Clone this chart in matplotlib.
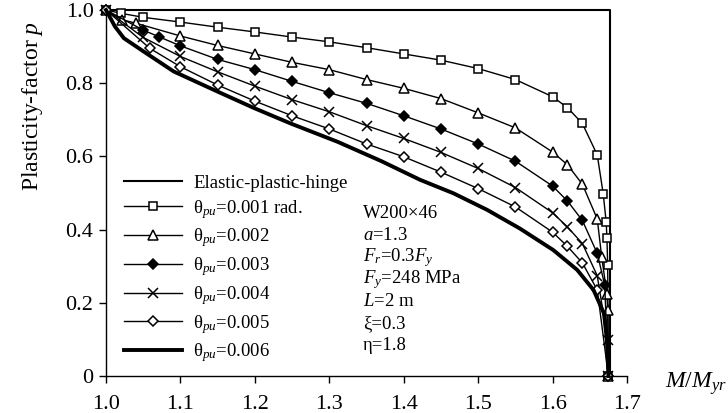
import matplotlib
matplotlib.use("Agg")
import matplotlib.pyplot as plt

plt.rcParams['font.family'] = ['Liberation Serif', 'DejaVu Serif']
plt.rcParams['mathtext.fontset'] = 'custom'
plt.rcParams['mathtext.rm'] = 'Liberation Serif'
plt.rcParams['mathtext.it'] = 'Liberation Serif:italic'

# ------------------------------------------------------------
# data (M/Myr, plasticity factor p)
ep_x = [1.0, 1.677, 1.677]
ep_p = [1.0, 1.0, 0.0]

x1 = [1.0, 1.02, 1.05, 1.10, 1.15, 1.20, 1.25, 1.30, 1.35, 1.40, 1.45, 1.50,
      1.55, 1.60, 1.62, 1.64, 1.66, 1.668, 1.672, 1.673, 1.674, 1.675]
p1 = [1.0, 0.991, 0.98, 0.967, 0.953, 0.94, 0.926, 0.913, 0.897, 0.88, 0.863,
      0.84, 0.81, 0.763, 0.733, 0.69, 0.604, 0.498, 0.421, 0.377, 0.303, 0.0]

x2 = [1.0, 1.022, 1.04, 1.10, 1.15, 1.20, 1.25, 1.30, 1.35, 1.40, 1.45, 1.50,
      1.55, 1.60, 1.62, 1.64, 1.66, 1.666, 1.673, 1.674, 1.675]
p2 = [1.0, 0.973, 0.964, 0.929, 0.903, 0.880, 0.857, 0.837, 0.810, 0.786,
      0.758, 0.719, 0.678, 0.612, 0.577, 0.524, 0.429, 0.325, 0.223, 0.181, 0.0]

x3 = [1.0, 1.05, 1.071, 1.10, 1.15, 1.20, 1.25, 1.30, 1.35, 1.40, 1.45, 1.50,
      1.55, 1.60, 1.62, 1.64, 1.66, 1.670, 1.675]
p3 = [1.0, 0.945, 0.927, 0.902, 0.865, 0.837, 0.805, 0.774, 0.745, 0.711,
      0.675, 0.634, 0.587, 0.519, 0.478, 0.425, 0.335, 0.249, 0.0]

x4 = [1.0, 1.05, 1.10, 1.15, 1.20, 1.25, 1.30, 1.35, 1.40, 1.45, 1.50, 1.55,
      1.60, 1.62, 1.64, 1.66, 1.674, 1.675]
p4 = [1.0, 0.925, 0.873, 0.831, 0.792, 0.755, 0.722, 0.684, 0.649, 0.611,
      0.567, 0.515, 0.446, 0.407, 0.362, 0.274, 0.098, 0.0]

x5 = [1.0, 1.059, 1.10, 1.15, 1.20, 1.25, 1.30, 1.35, 1.40, 1.45, 1.50, 1.55,
      1.60, 1.62, 1.64, 1.66, 1.675]
p5 = [1.0, 0.895, 0.845, 0.795, 0.751, 0.711, 0.675, 0.634, 0.599, 0.557,
      0.512, 0.462, 0.393, 0.354, 0.309, 0.235, 0.0]

x6 = [1.0, 1.012, 1.024, 1.051, 1.091, 1.150, 1.199, 1.248, 1.311, 1.37, 1.422,
      1.467, 1.512, 1.556, 1.601, 1.633, 1.655, 1.669, 1.673, 1.675]
p6 = [1.0, 0.955, 0.923, 0.886, 0.832, 0.777, 0.732, 0.690, 0.640, 0.587,
      0.536, 0.499, 0.454, 0.403, 0.344, 0.290, 0.235, 0.171, 0.098, 0.0]

labels = ['Elastic-plastic-hinge',
          r'θ$_{pu}$=0.001 rad.',
          r'θ$_{pu}$=0.002',
          r'θ$_{pu}$=0.003',
          r'θ$_{pu}$=0.004',
          r'θ$_{pu}$=0.005',
          r'θ$_{pu}$=0.006']

notes = [r'W200×46', r'$a$=1.3', r'$F_r$=0.3$F_y$', r'$F_y$=248 MPa',
         r'$L$=2 m', r'ξ=0.3', r'η=1.8']

xticks = [1.0, 1.1, 1.2, 1.3, 1.4, 1.5, 1.6, 1.7]
xticklabels = ['1.0', '1.1', '1.2', '1.3', '1.4', '1.5', '1.6', '1.7']
yticks = [0, 0.2, 0.4, 0.6, 0.8, 1.0]
yticklabels = ['0', '0.2', '0.4', '0.6', '0.8', '1.0']

#------------------------------------------------------------
fig = plt.figure(figsize=(7.28, 4.13), dpi=100)
ax = fig.add_axes([0.1456, 0.0896, 0.7157, 0.8862])

k = dict(color='k', lw=1.0, clip_on=False, mec='k', mew=1.1)
ax.plot(ep_x, ep_p, color='k', lw=1.5, clip_on=False, label=labels[0])
ax.plot(x1, p1, marker='s', ms=6, mfc='white', label=labels[1], **k)
ax.plot(x2, p2, marker='^', ms=7, mfc='white', label=labels[2], **k)
ax.plot(x3, p3, marker='D', ms=5.5, mfc='k', label=labels[3], **k)
ax.plot(x4, p4, marker='x', ms=7, label=labels[4], **k)
ax.plot(x5, p5, marker='D', ms=5.5, mfc='white', label=labels[5], **k)
ax.plot(x6, p6, color='k', lw=2.8, clip_on=False, label=labels[6])

ax.set_xlim(1.0, 1.7)
ax.set_ylim(0, 1.0)
ax.set_xticks(xticks)
ax.set_xticklabels(xticklabels)
ax.set_yticks(yticks)
ax.set_yticklabels(yticklabels)
ax.tick_params(axis='both', direction='out', length=5, width=1, labelsize=16)
ax.tick_params(axis='x', pad=9)
ax.tick_params(axis='y', pad=4)
for s in ['top', 'right']:
    ax.spines[s].set_visible(False)
for s in ['left', 'bottom']:
    ax.spines[s].set_linewidth(1.0)

ax.set_ylabel(r'Plasticity-factor $p$', fontsize=17)
ax.yaxis.set_label_coords(-0.118, 0.738)
ax.text(1.073, -0.02, r'$M/M_{yr}$', transform=ax.transAxes, fontsize=17,
        ha='left', va='center')

ax.legend(loc='upper left', bbox_to_anchor=(0.02, 0.57), frameon=False,
          fontsize=13.5, handlelength=3.1, handletextpad=0.6,
          labelspacing=0.31, borderaxespad=0)

for i, t in enumerate(notes):
    ax.text(0.493, 0.443 - i * 0.0601, t, transform=ax.transAxes,
            fontsize=13.5, ha='left', va='center')

fig.savefig('out.png', dpi=100)
